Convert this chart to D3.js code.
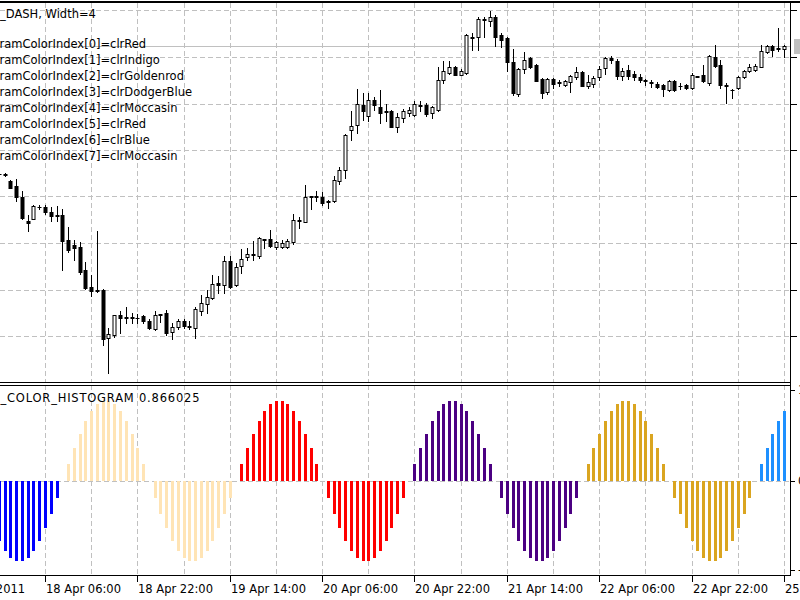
<!DOCTYPE html>
<html>
<head>
<meta charset="utf-8">
<script src="https://cdn.jsdelivr.net/npm/d3@7/dist/d3.min.js"></script>
<style>
  html, body { margin: 0; padding: 0; background: #fff; }
  svg { display: block; font-family: "DejaVu Sans", sans-serif; font-size: 11.5px; }
</style>
</head>
<body>
<div id="chart"></div>
<script>
// H1 bars, oldest first: [open, high, low, close]
const candles = [
  [1.4526, 1.45275, 1.4525, 1.45255], [1.4526, 1.45265, 1.4524, 1.4525], [1.45185, 1.45195, 1.4512, 1.45125], [1.4514, 1.4521, 1.44985, 1.45025],
  [1.4503, 1.4509, 1.4481, 1.4482], [1.44785, 1.44845, 1.44685, 1.4477], [1.4481, 1.4495, 1.44805, 1.44945], [1.44935, 1.44955, 1.4491, 1.4493],
  [1.4493, 1.44955, 1.44855, 1.44875], [1.4488, 1.4493, 1.4479, 1.44835], [1.44845, 1.4494, 1.4479, 1.4484], [1.44845, 1.4491, 1.443, 1.4459],
  [1.446, 1.44735, 1.4448, 1.44495], [1.44555, 1.446, 1.444, 1.4452], [1.4453, 1.4458, 1.44255, 1.4428], [1.443, 1.4438, 1.44115, 1.44125],
  [1.4413, 1.4425, 1.44035, 1.44085], [1.441, 1.4469, 1.4408, 1.4409], [1.441, 1.4411, 1.4355, 1.4361], [1.43615, 1.4372, 1.4327, 1.43655],
  [1.43645, 1.4385, 1.4363, 1.43845], [1.4385, 1.43885, 1.4367, 1.43815], [1.4383, 1.43935, 1.4377, 1.4382], [1.43825, 1.4387, 1.4377, 1.43815],
  [1.4382, 1.43855, 1.4377, 1.43815], [1.4384, 1.4385, 1.43765, 1.43785], [1.43785, 1.4381, 1.43715, 1.43725], [1.4371, 1.43885, 1.43705, 1.43845],
  [1.43855, 1.4386, 1.43775, 1.4385], [1.43865, 1.439, 1.4365, 1.4367], [1.4368, 1.43765, 1.4361, 1.43735], [1.4373, 1.4381, 1.4371, 1.4379],
  [1.4379, 1.4381, 1.43725, 1.43745], [1.43745, 1.43785, 1.4371, 1.43735], [1.4372, 1.4393, 1.4362, 1.4391], [1.43885, 1.4405, 1.4385, 1.43965],
  [1.4396, 1.441, 1.4387, 1.44025], [1.4402, 1.4425, 1.4401, 1.4416], [1.44165, 1.4424, 1.44065, 1.4415], [1.4415, 1.4444, 1.4407, 1.44385],
  [1.4439, 1.44435, 1.44125, 1.44135], [1.4415, 1.44365, 1.4414, 1.44335], [1.4434, 1.44515, 1.4427, 1.4441], [1.4443, 1.44525, 1.44395, 1.4446],
  [1.44455, 1.44585, 1.444, 1.44445], [1.44435, 1.44625, 1.44415, 1.44615], [1.44605, 1.4461, 1.44525, 1.446], [1.4461, 1.44695, 1.4453, 1.4454],
  [1.44535, 1.4459, 1.44515, 1.44575], [1.44535, 1.446, 1.4452, 1.44565], [1.44535, 1.44605, 1.44525, 1.44585], [1.44575, 1.4486, 1.4456, 1.448],
  [1.44795, 1.4483, 1.4472, 1.4479], [1.4478, 1.4515, 1.44775, 1.45025], [1.45035, 1.4504, 1.4491, 1.45025], [1.45035, 1.45085, 1.44985, 1.4503],
  [1.4503, 1.45075, 1.44955, 1.4497], [1.44985, 1.45, 1.44925, 1.4498], [1.44985, 1.45235, 1.4498, 1.45195], [1.45185, 1.45335, 1.4516, 1.45305],
  [1.453, 1.4566, 1.45215, 1.4565], [1.45695, 1.45885, 1.456, 1.4574], [1.4575, 1.46115, 1.45665, 1.4596], [1.45955, 1.46065, 1.45795, 1.45885],
  [1.45835, 1.46065, 1.4579, 1.46], [1.46, 1.46025, 1.459, 1.4595], [1.4593, 1.461, 1.4577, 1.4587], [1.45885, 1.45965, 1.45785, 1.4588],
  [1.4589, 1.45905, 1.4573, 1.45735], [1.45735, 1.45865, 1.45675, 1.4583], [1.4582, 1.45915, 1.4578, 1.45885], [1.45865, 1.4593, 1.45835, 1.45905],
  [1.4585, 1.45985, 1.4584, 1.4596], [1.45955, 1.45985, 1.45885, 1.45945], [1.45955, 1.4597, 1.4584, 1.45855], [1.45865, 1.4594, 1.45815, 1.45935],
  [1.45905, 1.46335, 1.45885, 1.462], [1.462, 1.46385, 1.4617, 1.4629], [1.46265, 1.46385, 1.46255, 1.46335], [1.46335, 1.4634, 1.46245, 1.4625],
  [1.4625, 1.4631, 1.46245, 1.46285], [1.4627, 1.4666, 1.4626, 1.46645], [1.46625, 1.4667, 1.465, 1.4662], [1.46625, 1.46825, 1.465, 1.4681],
  [1.46805, 1.46825, 1.46625, 1.46795], [1.4679, 1.46885, 1.46745, 1.46825], [1.4683, 1.4685, 1.46545, 1.46625], [1.4665, 1.4667, 1.46535, 1.466],
  [1.46615, 1.4663, 1.4629, 1.46375], [1.46375, 1.46515, 1.4605, 1.4607], [1.46055, 1.4632, 1.46035, 1.46315], [1.4631, 1.46475, 1.4627, 1.464],
  [1.46415, 1.46425, 1.46325, 1.46335], [1.4635, 1.4636, 1.46185, 1.4619], [1.4621, 1.4622, 1.46015, 1.46065], [1.46075, 1.4622, 1.46055, 1.4621],
  [1.4621, 1.4622, 1.4612, 1.46165], [1.46175, 1.462, 1.4614, 1.4617], [1.4615, 1.462, 1.46145, 1.4619], [1.4618, 1.46245, 1.4608, 1.46235],
  [1.46225, 1.46335, 1.4621, 1.46275], [1.46275, 1.46285, 1.4614, 1.46145], [1.46145, 1.4625, 1.4612, 1.46175], [1.46165, 1.4624, 1.4613, 1.46215],
  [1.46225, 1.4634, 1.462, 1.46315], [1.4632, 1.4643, 1.4626, 1.46415], [1.46415, 1.46435, 1.4637, 1.464], [1.4639, 1.4641, 1.4621, 1.46235],
  [1.46235, 1.4632, 1.462, 1.4629], [1.463, 1.46355, 1.4621, 1.46235], [1.46255, 1.4629, 1.462, 1.46225], [1.4623, 1.4626, 1.4618, 1.462],
  [1.46195, 1.4621, 1.4615, 1.46185], [1.46175, 1.462, 1.46135, 1.4617], [1.46165, 1.46175, 1.46125, 1.46135], [1.4615, 1.4616, 1.46035, 1.46115],
  [1.461, 1.46195, 1.4609, 1.46185], [1.4619, 1.462, 1.4609, 1.461], [1.46145, 1.4617, 1.46115, 1.4614], [1.46155, 1.46165, 1.46115, 1.46125],
  [1.4612, 1.46265, 1.4611, 1.4625], [1.46235, 1.4624, 1.46225, 1.4623], [1.4625, 1.46355, 1.4618, 1.4619], [1.4617, 1.4645, 1.4615, 1.46435],
  [1.46425, 1.46555, 1.46335, 1.46345], [1.46355, 1.464, 1.4612, 1.4615], [1.46155, 1.4617, 1.4597, 1.46145], [1.46105, 1.4611, 1.4602, 1.461],
  [1.4612, 1.46235, 1.46115, 1.46225], [1.46225, 1.46305, 1.4622, 1.4629], [1.46285, 1.46365, 1.46275, 1.46335], [1.463, 1.4636, 1.4629, 1.46345],
  [1.46335, 1.4655, 1.4633, 1.46485], [1.46475, 1.46555, 1.46465, 1.46545], [1.46545, 1.46555, 1.46435, 1.465], [1.46515, 1.4672, 1.4649, 1.4652],
  [1.4651, 1.4655, 1.4643, 1.46545]
];

// DRAW_COLOR_HISTOGRAM buffer, one value per bar
const histValues = [
  -0.743, -0.866, -0.951, -0.995, -0.995, -0.951, -0.866, -0.743, -0.588, -0.407, -0.208,
  0, 0.208, 0.407, 0.588, 0.743, 0.866, 0.951, 0.995, 0.995, 0.951, 0.866, 0.743, 0.588, 0.407, 0.208,
  0, -0.208, -0.407, -0.588, -0.743, -0.866, -0.951, -0.995, -0.995, -0.951, -0.866, -0.743, -0.588, -0.407, -0.208,
  0, 0.208, 0.407, 0.588, 0.743, 0.866, 0.951, 0.995, 0.995, 0.951, 0.866, 0.743, 0.588, 0.407, 0.208,
  0, -0.208, -0.407, -0.588, -0.743, -0.866, -0.951, -0.995, -0.995, -0.951, -0.866, -0.743, -0.588, -0.407, -0.208,
  0, 0.208, 0.407, 0.588, 0.743, 0.866, 0.951, 0.995, 0.995, 0.951, 0.866, 0.743, 0.588, 0.407, 0.208,
  0, -0.208, -0.407, -0.588, -0.743, -0.866, -0.951, -0.995, -0.995, -0.951, -0.866, -0.743, -0.588, -0.407, -0.208,
  0, 0.208, 0.407, 0.588, 0.743, 0.866, 0.951, 0.995, 0.995, 0.951, 0.866, 0.743, 0.588, 0.407, 0.208,
  0, -0.208, -0.407, -0.588, -0.743, -0.866, -0.951, -0.995, -0.995, -0.951, -0.866, -0.743, -0.588, -0.407, -0.208,
  0, 0.208, 0.407, 0.588, 0.743, 0.866025
];
// [color index, number of bars]
const colorRuns = [[6, 11], [7, 30], [0, 30], [1, 30], [2, 30], [3, 6]];
const colorNames = ['clrRed', 'clrIndigo', 'clrGoldenrod', 'clrDodgerBlue', 'clrMoccasin', 'clrRed', 'clrBlue', 'clrMoccasin'];
const colorHex = ['#ff0000', '#4b0082', '#daa520', '#1e90ff', '#ffe4b5', '#ff0000', '#0000ff', '#ffe4b5'];

const timeLabels = ['15 Apr 2011', '18 Apr 06:00', '18 Apr 22:00', '19 Apr 14:00', '20 Apr 06:00',
  '20 Apr 22:00', '21 Apr 14:00', '22 Apr 06:00', '22 Apr 22:00', '25 Apr 14:00'];
const timeLabelBars = [-8, 8, 24, 40, 56, 72, 88, 104, 120, 136];
const priceTicks = [1.46895, 1.46430, 1.45965, 1.45500, 1.45035, 1.44570, 1.44105, 1.43640];
const histTicks = [1.1296, 0, -1.1056];

const W = 800, H = 600;
const paneRight = 790;
const main = { top: 3, bottom: 382 };
const sub = { top: 385, bottom: 575 };
const gridColor = '#c0c0c0';
const dash = '5,3';

const svg = d3.select('#chart').append('svg').attr('width', W).attr('height', H);
const defs = svg.append('defs');
defs.append('clipPath').attr('id', 'mainClip').append('rect')
  .attr('x', 0).attr('y', main.top).attr('width', paneRight).attr('height', main.bottom - main.top);
defs.append('clipPath').attr('id', 'subClip').append('rect')
  .attr('x', 0).attr('y', sub.top).attr('width', paneRight).attr('height', sub.bottom - sub.top);

// bar index -> x pixel
const x = d3.scaleLinear().domain([0, 136]).range([-1.2, 784]);
const px = i => Math.round(x(i));
const y = d3.scaleLinear().domain([1.4700, 1.4320]).range([0, 380]);
const yh = d3.scaleLinear().domain([-1, 1]).range([561.5, 400.5]);

const gridBars = d3.range(8, 137, 8);

// ---- main pane grid
const gMain = svg.append('g').attr('clip-path', 'url(#mainClip)');
gMain.selectAll('line.hgrid').data(priceTicks).join('line')
  .attr('x1', 0).attr('x2', paneRight)
  .attr('y1', d => Math.round(y(d)) + 0.5).attr('y2', d => Math.round(y(d)) + 0.5)
  .attr('stroke', gridColor).attr('stroke-dasharray', dash);
gMain.selectAll('line.vgrid').data(gridBars).join('line')
  .attr('x1', d => px(d) + 0.5).attr('x2', d => px(d) + 0.5)
  .attr('y1', main.top).attr('y2', main.bottom)
  .attr('stroke', gridColor).attr('stroke-dasharray', dash);

// bid line
const last = candles[candles.length - 1];
gMain.append('line')
  .attr('x1', 0).attr('x2', paneRight)
  .attr('y1', Math.round(y(last[3])) + 0.5).attr('y2', Math.round(y(last[3])) + 0.5)
  .attr('stroke', '#c0c0c0');

// ---- candles
const cg = gMain.selectAll('g.candle').data(candles).join('g');
cg.append('line')
  .attr('x1', (d, i) => px(i) + 0.5).attr('x2', (d, i) => px(i) + 0.5)
  .attr('y1', d => Math.round(y(d[1]))).attr('y2', d => Math.round(y(d[2])) + 1)
  .attr('stroke', '#000');
cg.each(function (d, i) {
  const g = d3.select(this);
  const yo = Math.round(y(d[0])), yc = Math.round(y(d[3]));
  const top = Math.min(yo, yc), bot = Math.max(yo, yc);
  const cx = px(i);
  if (bot - top < 1) {
    g.append('line').attr('x1', cx - 1.5).attr('x2', cx + 2.5)
      .attr('y1', top + 0.5).attr('y2', top + 0.5).attr('stroke', '#000');
  } else {
    g.append('rect').attr('x', cx - 1).attr('y', top + 0.5)
      .attr('width', 3).attr('height', bot - top)
      .attr('fill', d[3] > d[0] ? '#fff' : '#000').attr('stroke', '#000');
  }
});

// ---- texts in main pane
function textWidth(s, spacing) {
  const t = svg.append('text').attr('letter-spacing', spacing || 0).text(s);
  const w = t.node().getComputedTextLength();
  t.remove();
  return w;
}
svg.append('text').attr('x', -textWidth('STYLE')).attr('y', 17.5)
  .text('STYLE_DASH, Width=4');
const off = textWidth('Histog') + 0.5;
svg.selectAll('text.ci').data(colorNames).join('text')
  .attr('x', -off).attr('y', (d, i) => 47.5 + i * 16.05)
  .text((d, i) => `HistogramColorIndex[${i}]=${d}`);

// ---- indicator pane
const gSub = svg.append('g').attr('clip-path', 'url(#subClip)');
gSub.selectAll('line.vgrid').data(gridBars).join('line')
  .attr('x1', d => px(d) + 0.5).attr('x2', d => px(d) + 0.5)
  .attr('y1', sub.top).attr('y2', sub.bottom)
  .attr('stroke', gridColor).attr('stroke-dasharray', dash);
gSub.append('line')
  .attr('x1', 0).attr('x2', paneRight)
  .attr('y1', Math.round(yh(0)) + 0.5).attr('y2', Math.round(yh(0)) + 0.5)
  .attr('stroke', gridColor).attr('stroke-dasharray', dash);

const barColor = [];
colorRuns.forEach(([c, n]) => { for (let k = 0; k < n; k++) barColor.push(colorHex[c]); });
gSub.selectAll('rect.bar').data(histValues).join('rect')
  .attr('x', (d, i) => px(i) - 1)
  .attr('width', 3)
  .attr('y', d => Math.round(Math.min(yh(d), yh(0))))
  .attr('height', d => Math.round(Math.abs(yh(d) - yh(0))))
  .attr('fill', (d, i) => barColor[i]);

const ls = 0.8;
svg.append('text').attr('x', -textWidth('DRAW', ls) + 0.5).attr('y', 402)
  .attr('letter-spacing', ls)
  .text('DRAW_COLOR_HISTOGRAM ' + histValues[histValues.length - 1].toFixed(6));

// ---- frames and scales
svg.append('line').attr('x1', 0).attr('x2', W).attr('y1', 2).attr('y2', 2)
  .attr('stroke', '#000').attr('stroke-width', 2);
[main.bottom + 0.5, sub.top + 0.5, sub.bottom + 0.5].forEach(v => {
  svg.append('line').attr('x1', 0).attr('x2', paneRight + 1).attr('y1', v).attr('y2', v).attr('stroke', '#000');
});
svg.append('line').attr('x1', paneRight + 0.5).attr('x2', paneRight + 0.5)
  .attr('y1', main.top).attr('y2', sub.bottom + 1).attr('stroke', '#000');

svg.selectAll('line.ptick').data(priceTicks).join('line')
  .attr('x1', paneRight).attr('x2', paneRight + 7)
  .attr('y1', d => Math.round(y(d)) + 0.5).attr('y2', d => Math.round(y(d)) + 0.5)
  .attr('stroke', '#000');
svg.selectAll('text.plab').data(priceTicks).join('text')
  .attr('x', paneRight + 11).attr('y', d => y(d) + 4).text(d => d.toFixed(5));

// current price box
svg.append('rect').attr('x', 794).attr('y', Math.round(y(last[3])) - 7)
  .attr('width', 60).attr('height', 15).attr('fill', '#c0c0c0');

svg.selectAll('line.htick').data(histTicks).join('line')
  .attr('x1', paneRight).attr('x2', paneRight + 5)
  .attr('y1', d => Math.round(yh(d)) + 0.5).attr('y2', d => Math.round(yh(d)) + 0.5)
  .attr('stroke', '#000');
svg.selectAll('text.hlab').data(histTicks).join('text')
  .attr('x', paneRight + 8).attr('y', d => yh(d) + 4).text(d => d.toFixed(4));

// time axis
svg.selectAll('line.ttick').data(timeLabelBars).join('line')
  .attr('x1', d => px(d) + 0.5).attr('x2', d => px(d) + 0.5)
  .attr('y1', sub.bottom).attr('y2', sub.bottom + 7).attr('stroke', '#000');
svg.selectAll('text.tlab').data(timeLabels).join('text')
  .attr('x', (d, i) => px(timeLabelBars[i]) + 1).attr('y', 593)
  .text(d => d);
</script>
</body>
</html>
